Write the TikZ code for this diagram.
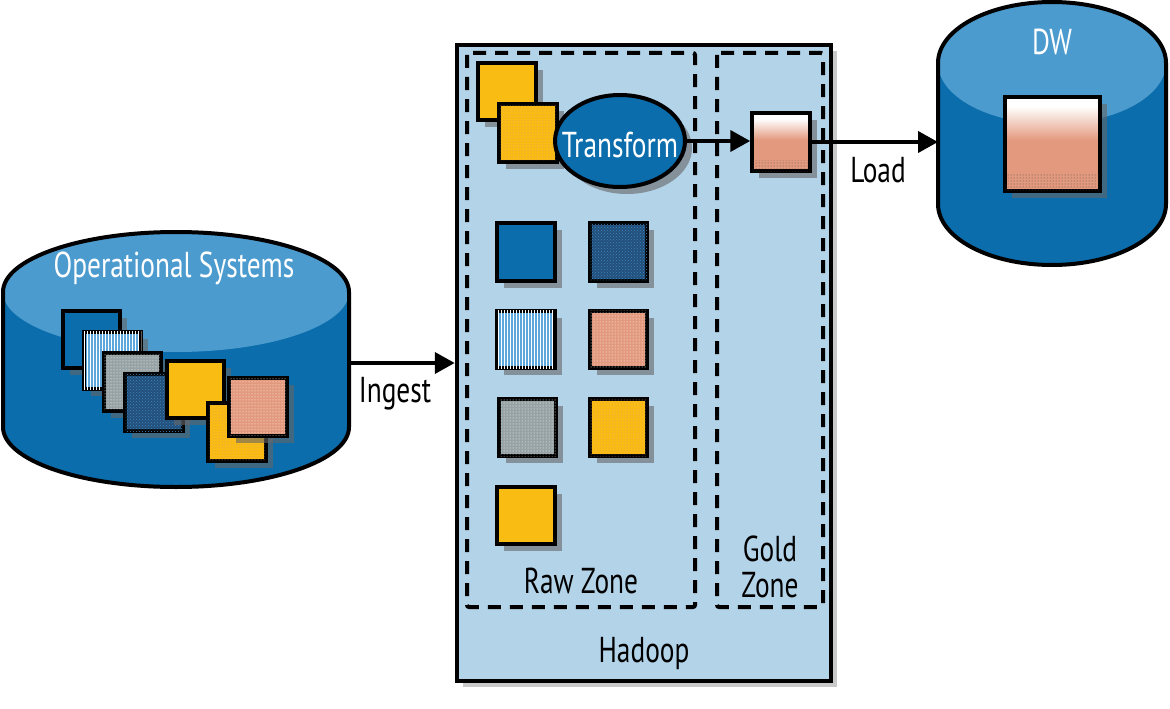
\documentclass[tikz,border=0pt]{standalone}
\usepackage{fontspec}
\setmainfont{PT Sans}
\newfontfamily\lbl[FakeStretch=0.76]{PT Sans}
\usetikzlibrary{arrows.meta,shapes.geometric,shadows,patterns}
\definecolor{dblue}{HTML}{0B6DAB}
\definecolor{topblue}{HTML}{4C9BCE}
\definecolor{hfill}{HTML}{B3D3E9}
\definecolor{gyellow}{HTML}{F8BC12}
\definecolor{salmon}{HTML}{E3997E}
\definecolor{sgrey}{HTML}{96A2A4}
\definecolor{stripe}{HTML}{5EA7DC}
\definecolor{navy}{HTML}{234F7A}
\definecolor{speck}{HTML}{3A86C0}
\definecolor{shadowc}{HTML}{666666}
\pgfdeclareverticalshading{goldsh}{100bp}{color(0bp)=(salmon); color(25bp)=(salmon); color(52bp)=(salmon); color(70bp)=(white); color(100bp)=(white)}
\tikzset{
  shd/.style={drop shadow={shadow xshift=7pt, shadow yshift=-7pt, fill=shadowc, opacity=0.6}},
  sq/.style={draw=black, line width=4pt, minimum size=57.5pt, inner sep=0pt, shd},
  bigsq/.style={sq, minimum size=94.5pt},
  plainblue/.style={sq, fill=dblue},
  texblue/.style={sq, fill=navy, postaction={pattern=crosshatch dots, pattern color=speck}},
  striped/.style={sq, fill=stripe, postaction={pattern=vertical lines, pattern color=white}},
  greysq/.style={sq, fill=sgrey, postaction={pattern=dots, pattern color=white}},
  yellowsq/.style={sq, fill=gyellow},
  yellowdot/.style={sq, fill=gyellow, postaction={pattern=dots, pattern color=salmon}},
  salmonsq/.style={sq, fill=salmon, postaction={pattern=dots, pattern color=white}},
  lab/.style={font=\lbl\fontsize{36}{40}\selectfont, inner sep=0pt, anchor=base},
  arr/.style={line width=4pt, -{Triangle[length=20pt,width=21pt]}},
  zone/.style={line width=4pt, dash pattern=on 13pt off 9pt, rounded corners=2pt},
  outline/.style={line width=4pt, draw=black},
}
\begin{document}
\begin{tikzpicture}[x=1pt,y=-1pt]
\useasboundingbox (0,0) rectangle (1170,709);
\fill[white] (0,0) rectangle (1170,709);

% Operational Systems cylinder
\fill[dblue] (3,292) rectangle (349,427);
\fill[dblue] (176,427) ellipse [x radius=173pt, y radius=60pt];
\fill[topblue] (176,292) ellipse [x radius=173pt, y radius=60pt];
\draw[outline] (3,292) arc[start angle=180,end angle=0,x radius=173pt,y radius=60pt] -- (349,427) arc[start angle=0,end angle=-180,x radius=173pt,y radius=60pt] -- cycle;
\node[lab, text=white] (oslbl) at (174,277) {Operational Systems};

\node[plainblue] (os1) at (91.5,339.5) {};
\node[striped] (os2) at (112.5,360.5) {};
\node[greysq] (os3) at (132.5,382) {};
\node[texblue] (os4) at (154,402.5) {};
\node[yellowsq] (os5) at (195.5,389.5) {};
\node[yellowdot] (os6) at (237,432) {};
\node[salmonsq] (os7) at (258,407) {};
\coordinate (osR) at (349,363);

% DW cylinder
\fill[dblue] (938,63) rectangle (1166,204);
\fill[dblue] (1052,204) ellipse [x radius=114pt, y radius=61pt];
\fill[topblue] (1052,63) ellipse [x radius=114pt, y radius=61pt];
\draw[outline] (938,63) arc[start angle=180,end angle=0,x radius=114pt,y radius=61pt] -- (1166,204) arc[start angle=0,end angle=-180,x radius=114pt,y radius=61pt] -- cycle;
\node[lab, text=white] (dwlbl) at (1052,55) {DW};
\node[bigsq, shading=goldsh] (dwsq) at (1052.5,144) {};
\fill[pattern=dots, pattern color=black!70] (1006,174) rectangle (1099,191);
\coordinate (dwL) at (938,142);

% Hadoop
\node[draw=black, line width=4pt, fill=hfill, minimum width=374.5pt, minimum height=636.5pt, inner sep=0pt,
      drop shadow={shadow xshift=6pt, shadow yshift=-6pt, fill=shadowc, opacity=0.35}] (hadoop) at (644,363) {};
\node[lab] (hadooplbl) at (644,662) {Hadoop};

\draw[zone] (467,53) rectangle (695,607);
\draw[zone] (717,53) rectangle (823,607);
\node[lab] (rawlbl) at (581,593) {Raw Zone};
\node[lab] (goldlbl1) at (770,561) {Gold};
\node[lab] (goldlbl2) at (770,597) {Zone};

\node[yellowsq] (ha) at (507,91.5) {};
\node[yellowdot] (hb) at (528,133) {};
\node[ellipse, draw=black, line width=4pt, fill=dblue, minimum width=130pt, minimum height=92pt, inner sep=0pt, shd] (tr) at (620,141) {};
\node[lab, text=white] (trlbl) at (620,157) {Transform};

\node[plainblue] (g1) at (526,252) {};
\node[texblue] (g2) at (618.5,252) {};
\node[striped] (g3) at (526,339.5) {};
\node[salmonsq] (g4) at (618.5,339.5) {};
\node[greysq] (g5) at (527.5,427.5) {};
\node[yellowdot] (g6) at (618.5,427.5) {};
\node[yellowsq] (g7) at (526,515.5) {};

\node[sq, shading=goldsh] (gold) at (781,142) {};
\fill[pattern=dots, pattern color=black!70] (752,160) rectangle (810,171);

% connectors
\draw[arr] (osR) -- (hadoop.west);
\node[lab] (ingestlbl) at (395,402) {Ingest};
\draw[arr] (tr.east) -- (tr.east -| gold.west);
\draw[arr] (gold.east) -- (dwL);
\node[lab] (loadlbl) at (878,182) {Load};
\end{tikzpicture}
\end{document}
